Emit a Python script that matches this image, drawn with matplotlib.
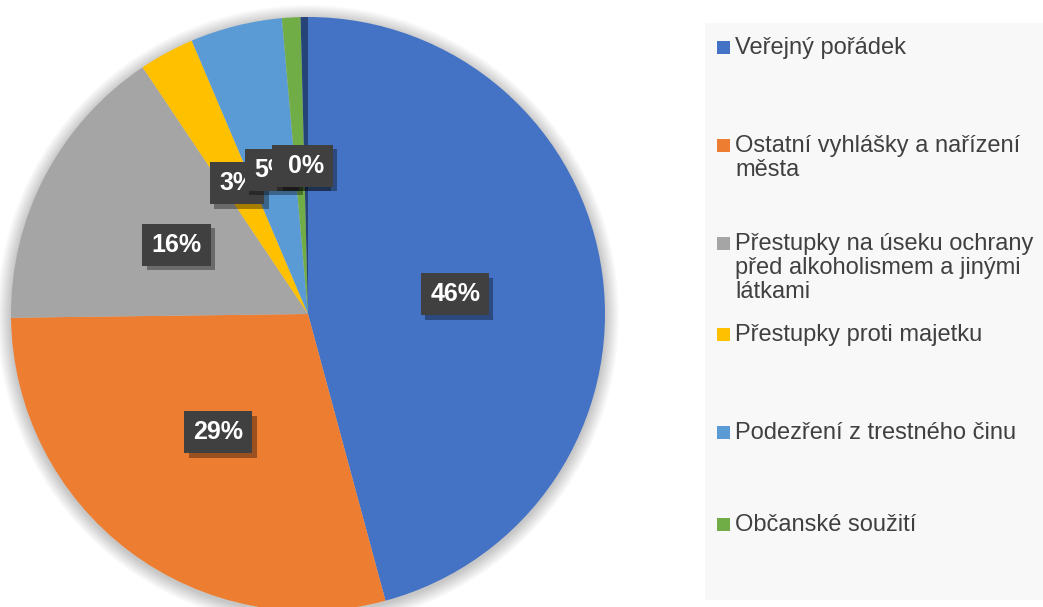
import matplotlib
matplotlib.use("Agg")
import matplotlib.pyplot as plt
import matplotlib.patheffects as pe
from matplotlib.patches import Rectangle, Circle

# Data (percent shares)
categories = ["Veřejný pořádek", "Ostatní vyhlášky a nařízení\nměsta",
              "Přestupky na úseku ochrany\npřed alkoholismem a jinými\nlátkami",
              "Přestupky proti majetku", "Podezření z trestného činu",
              "Občanské soužití", "Ostatní"]
shares = [45.8, 29.0, 15.8, 3.0, 5.0, 1.0, 0.4]
colors = ["#4472C4", "#ED7D31", "#A5A5A5", "#FFC000", "#5B9BD5", "#70AD47", "#264478"]

plt.rcParams["font.family"] = ["Liberation Sans", "DejaVu Sans"]

fig = plt.figure(figsize=(10.43, 6.07), dpi=100)
ax = fig.add_axes([0, 0, 1, 1])

cx, cy, r = 308, 293, 297

# soft shadow round the pie
for k in range(14, 0, -1):
    ax.add_patch(Circle((cx, cy - 2), r + k, color="black", alpha=0.016, lw=0, zorder=1))

wedges, texts, autotexts = ax.pie(
    shares, colors=colors, startangle=90, counterclock=False,
    center=(cx, cy), radius=r, autopct="%1.0f%%", pctdistance=0.5,
    wedgeprops=dict(linewidth=0), frame=True,
    textprops=dict(color="white", fontsize=18, fontweight="bold"))
ax.set_xlim(0, 1043)
ax.set_ylim(0, 607)
ax.axis("off")

for i, t in enumerate(autotexts):
    t.set_zorder(10 + i)
    t.set_bbox(dict(boxstyle="square,pad=0.36", facecolor="#404040", edgecolor="none"))
    t.get_bbox_patch().set_path_effects([
        pe.SimplePatchShadow(offset=(3, -3), shadow_rgbFace="black", alpha=0.35),
        pe.Normal()])

# legend panel
ax.add_patch(Rectangle((705, 7), 338, 577, facecolor="#F8F8F8", edgecolor="none", zorder=0))
legend_y = [47, 145, 243, 334, 432, 524]
for name, col, y in zip(categories[:6], colors[:6], legend_y):
    yy = 607 - y
    ax.add_patch(Rectangle((717, yy - 6.5), 13, 13, facecolor=col, edgecolor="none", zorder=5))
    ax.text(735, yy + 10, name, fontsize=17, color="#404040", va="top", ha="left",
            linespacing=1.12, zorder=5)

fig.savefig("out.png", dpi=100)
